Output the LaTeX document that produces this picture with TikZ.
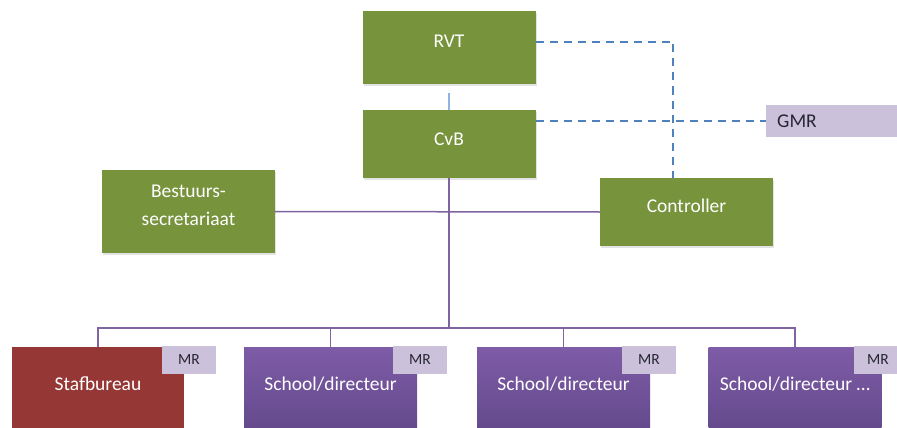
\documentclass[tikz,border=0pt]{standalone}
\usepackage{fontspec}
\setmainfont{Carlito}
\usetikzlibrary{shadows}
\definecolor{grn}{HTML}{77933C}
\definecolor{redbox}{HTML}{953735}
\definecolor{purtop}{HTML}{7E5CA7}
\definecolor{purbot}{HTML}{644A8C}
\definecolor{lilac}{HTML}{CCC1DA}
\definecolor{conn}{HTML}{8064A2}
\definecolor{dashblue}{HTML}{4F81BD}
\definecolor{lightblue}{HTML}{8EB4E3}
\definecolor{darktxt}{HTML}{262633}
\begin{document}
\begin{tikzpicture}[x=1pt,y=-1pt,
  box/.style={draw=none, inner sep=0pt, outer sep=0pt, minimum width=173pt,
     drop shadow={shadow xshift=1pt, shadow yshift=-2pt, opacity=0.22}},
  greenbox/.style={box, fill=grn},
  purbox/.style={draw=none, inner sep=0pt, outer sep=0pt, minimum width=173pt, minimum height=82pt,
     top color=purtop, bottom color=purbot},
  redbx/.style={draw=none, inner sep=0pt, outer sep=0pt, minimum width=172pt, minimum height=82pt, fill=redbox},
  mrbox/.style={draw=none, fill=lilac, inner sep=0pt, outer sep=0pt, minimum width=54pt, minimum height=28pt,
     text=darktxt, font=\fontsize{15.5}{18}\selectfont},
  lbl/.style={text=white, inner sep=0pt, font=\fontsize{19.5}{28}\selectfont, anchor=base, align=center},
  conline/.style={draw=conn, line width=1.5pt},
  dashline/.style={draw=dashblue, line width=2pt, dash pattern=on 8pt off 6pt}
]
\useasboundingbox (0,0) rectangle (897,428);

% top boxes
\node[greenbox, minimum height=73pt] (RVT) at (449,47.5) {};
\node[greenbox, minimum height=68pt] (CvB) at (449,144) {};
\node[greenbox, minimum height=83pt] (Best) at (188.5,211.5) {};
\node[greenbox, minimum height=68pt] (Contr) at (686.5,212) {};
\node[draw=none, fill=lilac, inner sep=0pt, outer sep=0pt, minimum width=134pt, minimum height=32pt] (GMR) at (833,121) {};

% bottom boxes
\node[redbx] (Staf) at (98,388) {};
\node[purbox] (S1) at (330.5,388) {};
\node[purbox] (S2) at (563.5,388) {};
\node[purbox] (S3) at (795,388) {};

\node[mrbox] (MR0) at (189,360) {MR};
\node[mrbox] (MR1) at (420,360) {MR};
\node[mrbox] (MR2) at (649,360) {MR};
\node[mrbox] (MR3) at (881,360) {\hspace*{-6pt}MR};

% labels
\node[lbl] (tRVT) at (449,48) {RVT};
\node[lbl] (tCvB) at (449,145) {CvB};
\node[lbl] (tBest) at (188.5,225) {Bestuurs-\\secretariaat};
\node[lbl] (tContr) at (686.5,212) {Controller};
\node[lbl, text=darktxt, anchor=base west] (tGMR) at (777,127) {GMR};
\node[lbl] (tStaf) at (98,390) {Stafbureau};
\node[lbl] (tS1) at (330.5,390) {School/directeur};
\node[lbl] (tS2) at (563.5,390) {School/directeur};
\node[lbl] (tS3) at (795,390) {School/directeur \dots};

% connectors
\coordinate (bus) at (0,328);
\coordinate (bend) at (673,42);
\draw[draw=lightblue, line width=2pt] ([yshift=-9pt]RVT.south) -- (CvB.north);
\draw[conline] (CvB.south) -- (CvB.south |- bus);
\draw[conline] (Best.east) -- (Contr.west);
\draw[conline] (Staf.north) -- (Staf.north |- bus) -- (S3.north |- bus) -- (S3.north);
\draw[conline] (S1.north) -- (S1.north |- bus);
\draw[conline] (S2.north) -- (S2.north |- bus);
\draw[dashline] (RVT.east |- bend) -- (bend) -- (bend |- Contr.north);
\draw[dashline] (CvB.east |- GMR.west) -- (GMR.west);
\end{tikzpicture}
\end{document}
